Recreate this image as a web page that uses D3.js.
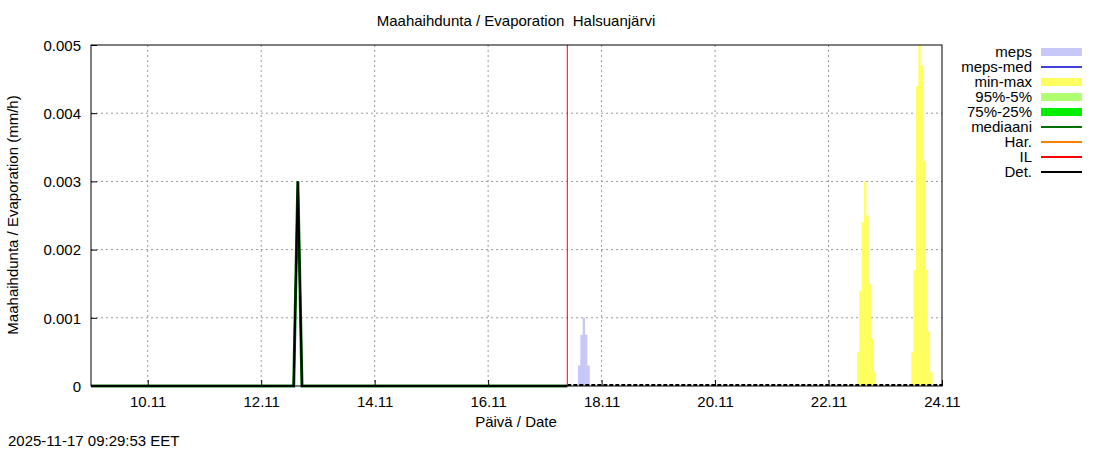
<!DOCTYPE html>
<html><head><meta charset="utf-8">
<script src="https://cdn.jsdelivr.net/npm/d3@7"></script>
<style>body{margin:0;background:#fff;font-family:"Liberation Sans",Arial,sans-serif}</style>
</head><body><svg id="c" width="1100" height="450"></svg>
<script>
// observed (Det.) series: time, value
const detTimes = ['2025-11-09T00:00','2025-11-12T13:45','2025-11-12T15:30','2025-11-12T17:15','2025-11-17T09:30'];
const detValues = [0, 0, 0.003, 0, 0];
// meps band (hourly steps)
const mepsTimes = ['2025-11-17T14:00','2025-11-17T15:00','2025-11-17T16:00','2025-11-17T17:00','2025-11-17T18:00','2025-11-17T19:00'];
const mepsValues = [0.0003, 0.00075, 0.001, 0.00075, 0.0003, 0];
// min-max band (hourly steps)
const minmaxTimes = ['2025-11-22T12:00','2025-11-22T13:00','2025-11-22T14:00','2025-11-22T15:00','2025-11-22T16:00','2025-11-22T17:00','2025-11-22T18:00','2025-11-22T19:00','2025-11-22T20:00',
  '2025-11-23T11:00','2025-11-23T12:00','2025-11-23T13:00','2025-11-23T14:00','2025-11-23T15:00','2025-11-23T16:00','2025-11-23T17:00','2025-11-23T18:00','2025-11-23T19:00','2025-11-23T20:00'];
const minmaxValues = [0.0005, 0.0014, 0.0024, 0.003, 0.0025, 0.0015, 0.0007, 0.0002, 0,
  0.0005, 0.0017, 0.0044, 0.0053, 0.0047, 0.0033, 0.0017, 0.0008, 0.0002, 0];
const nowTime = '2025-11-17T09:30';
const xTicks = ['2025-11-10','2025-11-12','2025-11-14','2025-11-16','2025-11-18','2025-11-20','2025-11-22','2025-11-24'];
const yTicks = [0, 0.001, 0.002, 0.003, 0.004, 0.005];
const legendNames = ['meps','meps-med','min-max','95%-5%','75%-25%','mediaani','Har.','IL','Det.'];
const legendColors = ['#c8c8f8','#4040e0','#ffff60','#b0ff70','#00ee00','#007000','#ff8000','#ff0000','#000000'];
const legendWidths = [8,2,8,8,8,2,2,2,2];

const svg = d3.select('#c');
const L = 91, R = 942, T = 45, B = 386;
const p = d3.timeParse('%Y-%m-%dT%H:%M'), pd = d3.timeParse('%Y-%m-%d');
const x = d3.scaleTime().domain([pd('2025-11-09'), pd('2025-11-24')]).range([L, R]);
const y = d3.scaleLinear().domain([0, 0.005]).range([B, T]);

// grid
svg.append('g').selectAll('line').data(xTicks.slice(0, -1)).join('line')
  .attr('x1', d => x(pd(d))).attr('x2', d => x(pd(d))).attr('y1', T).attr('y2', B)
  .attr('stroke', '#999').attr('stroke-dasharray', '2,3');
svg.append('g').selectAll('line').data(yTicks.slice(1, -1)).join('line')
  .attr('x1', L).attr('x2', R).attr('y1', d => y(d)).attr('y2', d => y(d))
  .attr('stroke', '#999').attr('stroke-dasharray', '2,3');

const area = d3.area().curve(d3.curveStepAfter).x(d => x(d[0])).y0(y(0)).y1(d => y(Math.min(d[1], 0.005)));
svg.append('path').datum(mepsTimes.map((t, i) => [p(t), mepsValues[i]])).attr('d', area).attr('fill', '#c8c8f8');
svg.append('path').datum(minmaxTimes.slice(0, 9).map((t, i) => [p(t), minmaxValues[i]])).attr('d', area).attr('fill', '#ffff60');
svg.append('path').datum(minmaxTimes.slice(9).map((t, i) => [p(t), minmaxValues[i + 9]])).attr('d', area).attr('fill', '#ffff60');

const line = d3.line().x(d => x(d[0])).y(d => y(d[1]));
const det = detTimes.map((t, i) => [p(t), detValues[i]]);
svg.append('path').datum(det).attr('d', line).attr('fill', 'none').attr('stroke', '#007000').attr('stroke-width', 3);
svg.append('path').datum(det).attr('d', line).attr('fill', 'none').attr('stroke', '#000').attr('stroke-width', 2);
svg.append('line').attr('x1', x(p(nowTime))).attr('x2', R).attr('y1', B - 1).attr('y2', B - 1)
  .attr('stroke', '#000').attr('stroke-width', 2).attr('stroke-dasharray', '4,2');
svg.append('line').attr('x1', x(p(nowTime))).attr('x2', x(p(nowTime))).attr('y1', T).attr('y2', B).attr('stroke', '#ff0000');

// frame and axes
svg.append('rect').attr('x', L).attr('y', T).attr('width', R - L).attr('height', B - T).attr('fill', 'none').attr('stroke', '#000');
const xa = svg.append('g').attr('transform', `translate(0,${B})`)
  .call(d3.axisBottom(x).tickValues(xTicks.map(pd)).tickFormat(d3.timeFormat('%d.%m')).tickSize(-6).tickPadding(10));
const ya = svg.append('g').attr('transform', `translate(${L},0)`)
  .call(d3.axisLeft(y).tickValues(yTicks).tickFormat(d => d === 0 ? '0' : d3.format('.3f')(d)).tickSize(-6).tickPadding(10));
[xa, ya].forEach(g => { g.select('.domain').remove(); g.selectAll('text').attr('font-size', 15).attr('font-family', 'Liberation Sans').attr('fill', '#000'); });
ya.selectAll('text').attr('dy', '0.35em');

svg.append('text').attr('x', 516).attr('y', 26).attr('text-anchor', 'middle').attr('font-size', 15).text('Maahaihdunta / Evaporation  Halsuanjärvi').style('white-space', 'pre');
svg.append('text').attr('x', 516).attr('y', 427).attr('text-anchor', 'middle').attr('font-size', 15).text('Päivä / Date');
svg.append('text').attr('transform', 'translate(18,215) rotate(-90)').attr('text-anchor', 'middle').attr('font-size', 15).text('Maahaihdunta / Evaporation (mm/h)');
svg.append('text').attr('x', 8).attr('y', 446).attr('font-size', 15).text('2025-11-17 09:29:53 EET');

const lg = svg.append('g').selectAll('g').data(legendNames).join('g').attr('transform', (d, i) => `translate(0,${52 + i * 15})`);
lg.append('text').attr('x', 1032).attr('y', 5).attr('text-anchor', 'end').attr('font-size', 15).text(d => d);
lg.append('line').attr('x1', 1041).attr('x2', 1082).attr('y1', 0).attr('y2', 0)
  .attr('stroke', (d, i) => legendColors[i]).attr('stroke-width', (d, i) => legendWidths[i]);
</script></body></html>
